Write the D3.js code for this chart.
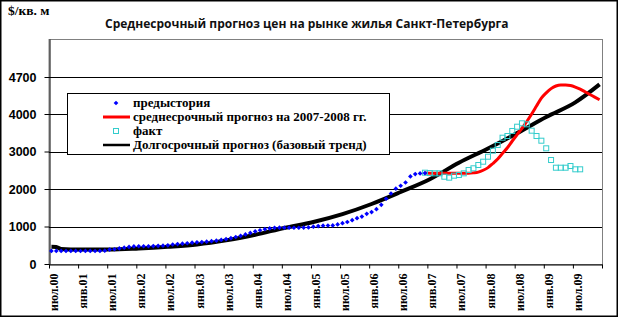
<!DOCTYPE html>
<html>
<head>
<meta charset="utf-8">
<script src="https://cdn.jsdelivr.net/npm/d3@7"></script>
<style>
  html, body { margin: 0; padding: 0; background: #fff; }
  svg { display: block; }
</style>
</head>
<body>
<div id="chart"></div>
<script>
// Half-year tick labels along the month axis (Jul 2000 .. Jan 2010)
const tickLabels = ["июл.00","янв.01","июл.01","янв.02","июл.02","янв.03","июл.03","янв.04","июл.04",
  "янв.05","июл.05","янв.06","июл.06","янв.07","июл.07","янв.08","июл.08","янв.09","июл.09"];
const monthCount = 114;

// Y axis ticks ($ per sq. m)
const yTicks = [0, 1000, 2000, 3000, 4000, 4700];

// Series names (legend order)
const seriesNames = ["предыстория", "среднесрочный прогноз на 2007-2008 гг.", "факт", "Долгосрочный прогноз (базовый тренд)"];

// Price history, monthly from Jul 2000
const historyStart = 0;
const historyValues = [
  350, 348, 350, 346, 348, 350, 347, 350, 349, 346, 350, 355,
  385, 393, 415, 436, 455, 468, 473, 473, 473, 478, 485, 490,
  498, 520, 532, 543, 553, 568, 578, 585, 595, 608, 622, 642,
  662, 690, 720, 752, 790, 830, 868, 900, 928, 950, 965, 970,
  970, 968, 966, 966, 971, 975, 995, 1012, 1022, 1026, 1030, 1056,
  1088, 1120, 1168, 1221, 1265, 1337, 1385, 1462, 1577, 1740, 1880, 2010,
  2086, 2174, 2335, 2398, 2415, 2424
];

// Medium-term forecast for 2007-2008, monthly from Dec 2006
const forecastStart = 77;
const forecastValues = [
  2424, 2420, 2420, 2420, 2420, 2420, 2420, 2420, 2420, 2420, 2430, 2450,
  2500, 2570, 2680, 2800, 2950, 3100, 3280, 3450, 3620, 3800, 4000, 4150,
  4300, 4400, 4480, 4530, 4550, 4550, 4540, 4510, 4470, 4420, 4370, 4320, 4270
];

// Actual prices, monthly from Dec 2006
const factStart = 77;
const factValues = [
  2435, 2425, 2418, 2418, 2328, 2302, 2355, 2373, 2418, 2507, 2552, 2640, 2728,
  2861, 3021, 3173, 3368, 3413, 3547, 3661, 3752, 3725, 3555, 3413, 3288,
  3085, 2773, 2568, 2568, 2568, 2613, 2525, 2525
];

// Long-term base trend
const trendMonths = [0, 1, 2, 6, 12, 18, 24, 30, 36, 42, 48, 54, 60, 66, 72, 78, 84, 90, 96, 102, 108, 113];
const trendValues = [460, 455, 400, 385, 385, 415, 460, 520, 630, 780, 960, 1120, 1330, 1600, 1920, 2260, 2700, 3080, 3490, 3920, 4220, 4560];

const W = 624, H = 322;
const plot = { left: 49, right: 602, top: 39, bottom: 264 };

const svg = d3.select("#chart").append("svg")
  .attr("width", W).attr("height", H);

svg.append("rect").attr("width", W).attr("height", H).attr("fill", "#fff");

// Chart frame
svg.append("rect")
  .attr("x", 0.75).attr("y", 0.75).attr("width", 616.5).attr("height", 315.5)
  .attr("fill", "none").attr("stroke", "#000").attr("stroke-width", 1.5);

const x = d3.scaleLinear().domain([0, monthCount]).range([plot.left, plot.right]);
// Upper section of the value axis is stretched so 4700 sits one grid step above 4000
const y = d3.scaleLinear().domain([0, 4000, 4700, 5400]).range([plot.bottom, 114, 77, plot.top]);
const xc = m => x(m + 0.5);

// Plot area border
svg.append("rect")
  .attr("x", plot.left).attr("y", plot.top + 0.5)
  .attr("width", plot.right - plot.left + 0.5).attr("height", plot.bottom - plot.top)
  .attr("fill", "none").attr("stroke", "#808080").attr("stroke-width", 1);

// Horizontal gridlines
svg.append("g").selectAll("line")
  .data(yTicks.filter(v => v > 0))
  .join("line")
  .attr("x1", plot.left).attr("x2", plot.right)
  .attr("y1", d => Math.round(y(d)) + 0.5).attr("y2", d => Math.round(y(d)) + 0.5)
  .attr("stroke", "#000").attr("stroke-width", 1);

// Y axis
const yAxis = svg.append("g")
  .attr("transform", `translate(${plot.left + 0.5},0)`)
  .call(d3.axisLeft(y).tickValues(yTicks).tickSize(5).tickSizeOuter(0).tickPadding(8).tickFormat(d3.format("d")));
yAxis.select(".domain").attr("stroke", "#000");
yAxis.selectAll(".tick line").attr("stroke", "#000");
yAxis.selectAll(".tick text")
  .attr("font-family", "'Liberation Sans', Arial, sans-serif")
  .attr("font-weight", "bold").attr("font-size", 12.5).attr("fill", "#000");

// X axis
const xAxis = svg.append("g")
  .attr("transform", `translate(0,${plot.bottom + 0.5})`)
  .call(d3.axisBottom(x).tickValues(d3.range(0, monthCount + 1, 6)).tickSize(4).tickSizeOuter(0)
    .tickFormat(m => tickLabels[m / 6] || ""));
xAxis.select(".domain").attr("stroke", "#000");
xAxis.selectAll(".tick line").attr("stroke", "#000");
xAxis.selectAll(".tick text")
  .attr("transform", "rotate(-90)")
  .attr("text-anchor", "end")
  .attr("x", -9).attr("y", 8.5).attr("dy", 0)
  .attr("font-family", "'Liberation Serif', 'Times New Roman', serif")
  .attr("font-weight", "bold").attr("font-size", 12).attr("fill", "#000");

const toPoints = (start, values) => values.map((v, i) => ({ m: start + i, v }));
const history = toPoints(historyStart, historyValues);
const forecast = toPoints(forecastStart, forecastValues);
const fact = toPoints(factStart, factValues);
const trend = trendMonths.map((m, i) => ({ m, v: trendValues[i] }));

const line = d3.line().x(d => xc(d.m)).y(d => y(d.v)).curve(d3.curveMonotoneX);

// Long-term trend
svg.append("path")
  .datum(trend)
  .attr("d", line)
  .attr("fill", "none").attr("stroke", "#000").attr("stroke-width", 4);

// Medium-term forecast
svg.append("path")
  .datum(forecast)
  .attr("d", line)
  .attr("fill", "none").attr("stroke", "#ff0000").attr("stroke-width", 3);

// Actual prices: hollow squares
svg.append("g").selectAll("rect")
  .data(fact)
  .join("rect")
  .attr("x", d => xc(d.m) - 2.5).attr("y", d => y(d.v) - 2.5)
  .attr("width", 5).attr("height", 5)
  .attr("fill", "none").attr("stroke", "#33cccc").attr("stroke-width", 1);

// History: small diamonds
const diamond = d3.symbol().type(d3.symbolSquare).size(11);
svg.append("g").selectAll("path")
  .data(history)
  .join("path")
  .attr("d", diamond)
  .attr("transform", d => `translate(${xc(d.m)},${y(d.v)}) rotate(45)`)
  .attr("fill", "#0000ff");

// Title and unit label
svg.append("text")
  .attr("x", 105).attr("y", 28)
  .attr("font-family", "'Open Sans', 'Noto Sans', sans-serif")
  .attr("font-weight", "bold").attr("font-size", 12)
  .attr("fill", "#111")
  .text("Среднесрочный прогноз цен на рынке жилья Санкт-Петербурга");

svg.append("text")
  .attr("x", 8).attr("y", 15)
  .attr("font-family", "'Liberation Serif', 'Times New Roman', serif")
  .attr("font-weight", "bold").attr("font-size", 13.5)
  .attr("fill", "#000")
  .text("$/кв. м");

// Legend
const legend = svg.append("g");
legend.append("rect")
  .attr("x", 67.5).attr("y", 93.5).attr("width", 322).attr("height", 61)
  .attr("fill", "#fff").attr("stroke", "#000").attr("stroke-width", 1);

const rowY = [106.5, 120.5, 134.5, 148.5];
const symX = 116, lineX1 = 103, lineX2 = 130, textX = 133;

legend.append("path")
  .attr("d", diamond)
  .attr("transform", `translate(${symX},${rowY[0] - 3.5}) rotate(45)`)
  .attr("fill", "#0000ff");
legend.append("line")
  .attr("x1", lineX1).attr("x2", lineX2).attr("y1", rowY[1] - 3.5).attr("y2", rowY[1] - 3.5)
  .attr("stroke", "#ff0000").attr("stroke-width", 3);
legend.append("rect")
  .attr("x", symX - 2.5).attr("y", rowY[2] - 3.5 - 2.5).attr("width", 5).attr("height", 5)
  .attr("fill", "none").attr("stroke", "#33cccc").attr("stroke-width", 1);
legend.append("line")
  .attr("x1", lineX1).attr("x2", lineX2).attr("y1", rowY[3] - 3.5).attr("y2", rowY[3] - 3.5)
  .attr("stroke", "#000").attr("stroke-width", 2.5);

legend.selectAll("text.item")
  .data(seriesNames)
  .join("text")
  .attr("class", "item")
  .attr("x", textX).attr("y", (d, i) => rowY[i])
  .attr("font-family", "'Liberation Serif', 'Times New Roman', serif")
  .attr("font-weight", "bold").attr("font-size", 13)
  .attr("fill", "#000")
  .text(d => d);
</script>
</body>
</html>
